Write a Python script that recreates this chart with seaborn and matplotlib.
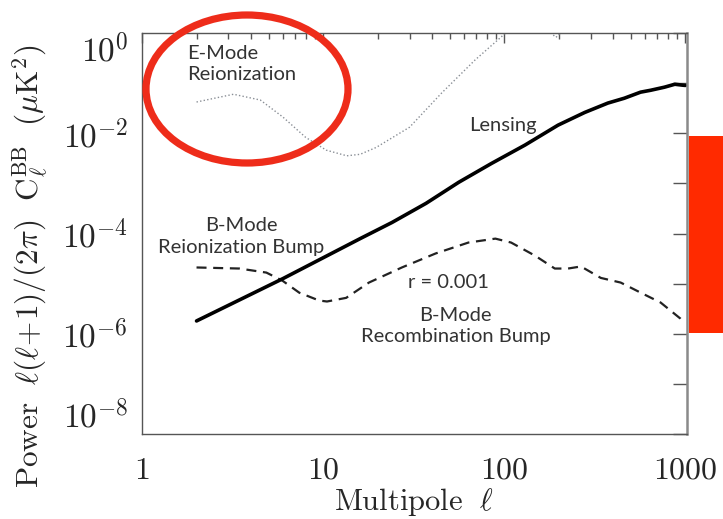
import matplotlib
matplotlib.use("Agg")
import matplotlib.pyplot as plt
from matplotlib.patches import Ellipse, Rectangle
from matplotlib.ticker import FixedLocator, NullLocator, LogLocator
import seaborn as sns
import pandas as pd

# Lensing B-mode spectrum
ell_lens = [2, 6, 16, 24, 37, 56, 85, 130, 198, 278, 373, 460, 565, 642, 766, 874, 965, 1000]
power_lens = [1.8e-6, 1.26e-5, 7.9e-5, 1.66e-4, 4.0e-4, 1.05e-3, 2.5e-3, 5.8e-3,
              1.45e-2, 2.6e-2, 4.0e-2, 5.0e-2, 6.6e-2, 7.2e-2, 8.3e-2, 9.5e-2, 9.1e-2, 9.0e-2]

# E-mode spectrum (runs off the top of the axes above l ~ 100)
ell_ee = [2, 3.2, 4.5, 6, 8, 10.4, 13.5, 16, 19.6, 30, 45, 69, 96, 120, 150, 175,
          193, 210, 250, 400, 1000]
power_ee = [0.042, 0.060, 0.046, 0.021, 0.0083, 0.0046, 0.00355, 0.0038, 0.0052,
            0.0132, 0.063, 0.29, 0.83, 1.8, 1.9, 1.1, 0.82, 1.1, 3.0, 10.0, 40.0]

# Primordial B-mode spectrum, r = 0.001
ell_bb = [2, 3.45, 4.86, 5.95, 7.38, 9.5, 10.5, 13.4, 17.9, 27.2, 41.8, 63.4, 89.3,
          109, 148, 190, 225, 265, 341, 439, 566, 729, 939, 975]
power_bb = [2.1e-5, 2.0e-5, 1.66e-5, 1.15e-5, 6.6e-6, 4.6e-6, 4.4e-6, 5.2e-6, 1.05e-5,
            2.1e-5, 4.0e-5, 6.6e-5, 7.9e-5, 6.6e-5, 3.6e-5, 2.0e-5, 2.0e-5, 2.2e-5,
            1.3e-5, 1.05e-5, 6.6e-6, 4.2e-6, 2.0e-6, 1.7e-6]

x_ticks = [1, 10, 100, 1000]
x_tick_labels = [r"$1$", r"$10$", r"$100$", r"$1000$"]
y_ticks = [1e-8, 1e-7, 1e-6, 1e-5, 1e-4, 1e-3, 1e-2, 1e-1, 1e0]
y_tick_labels = [r"$10^{-8}$", "", r"$10^{-6}$", "", r"$10^{-4}$", "", r"$10^{-2}$", "", r"$10^{0}$"]

sns.set_style("white")
plt.rcParams["mathtext.fontset"] = "cm"
plt.rcParams["font.family"] = ["Lato", "DejaVu Sans"]

fig = plt.figure(figsize=(7.23, 5.19), dpi=100)
W, H = 723, 519
ax = fig.add_axes([142 / W, 1 - 434 / H, (687 - 142) / W, (434 - 33) / H])

lens_df = pd.DataFrame({"ell": ell_lens, "power": power_lens})
ee_df = pd.DataFrame({"ell": ell_ee, "power": power_ee})
bb_df = pd.DataFrame({"ell": ell_bb, "power": power_bb})

sns.lineplot(data=ee_df, x="ell", y="power", ax=ax, color="#8a8f96",
             linewidth=1.0, linestyle=(0, (1, 1.6)), estimator=None, sort=False)
sns.lineplot(data=bb_df, x="ell", y="power", ax=ax, color="#222222",
             linewidth=1.6, linestyle=(0, (4.5, 3)), estimator=None, sort=False)
sns.lineplot(data=lens_df, x="ell", y="power", ax=ax, color="black",
             linewidth=2.6, estimator=None, sort=False)

ax.set_xscale("log")
ax.set_yscale("log")
ax.set_xlim(1, 1020)
ax.set_ylim(1e-8, 1e0)

ax.xaxis.set_major_locator(FixedLocator(x_ticks))
ax.set_xticklabels(x_tick_labels)
ax.xaxis.set_minor_locator(LogLocator(base=10, subs=range(2, 10)))
ax.xaxis.set_minor_formatter(plt.NullFormatter())
ax.yaxis.set_major_locator(FixedLocator(y_ticks))
ax.set_yticklabels(y_tick_labels)
ax.yaxis.set_minor_locator(NullLocator())

ax.tick_params(axis="both", which="both", direction="in", top=True, right=True,
               color="#555555", width=1.0)
ax.tick_params(axis="x", which="major", length=7, pad=15, labelsize=23)
ax.tick_params(axis="x", which="minor", length=4)
ax.tick_params(axis="y", which="major", length=10, pad=10, labelsize=24)

for side in ["left", "bottom", "top"]:
    ax.spines[side].set_color("#555555")
    ax.spines[side].set_linewidth(1.0)
ax.spines["right"].set_color("#8a8a8a")
ax.spines["right"].set_linewidth(1.8)

yticks = ax.yaxis.get_major_ticks()
yticks[-1].label1.set_verticalalignment("top")
yticks[0].label1.set_verticalalignment("bottom")

ax.set_xlabel(r"$\mathrm{Multipole}\ \ \ell$", fontsize=22, labelpad=1)
ax.set_ylabel(r"$\mathrm{Power}\ \ \ell(\ell\!+\!1)/(2\pi)\ \ \mathrm{C}_{\ell}^{\mathrm{BB}}\ \ (\mu\mathrm{K}^2)$",
              fontsize=22.5)
ax.yaxis.set_label_coords(-0.168, 0.418)

txt = dict(color="#333333", fontsize=14.5, va="center", linespacing=1.3)
ax.text(1.77, 0.24, "E-Mode\nReionization", ha="left", **txt)
ax.text(98, 1.4e-2, "Lensing", ha="center", **txt)
ax.text(3.54, 8.7e-5, "B-Mode\nReionization Bump", ha="center", multialignment="center", **txt)
ax.text(49, 1.05e-5, "r = 0.001", ha="center", **txt)
ax.text(54, 1.45e-6, "B-Mode\nRecombination Bump", ha="center", multialignment="center", **txt)

# highlight ring and side bar, in figure coordinates
ring = Ellipse((247 / W, 1 - 89 / H), 202 / W, 148 / H, transform=fig.transFigure,
               fill=False, edgecolor="#ee2c1a", linewidth=5.2, zorder=10)
fig.add_artist(ring)
bar = Rectangle((689 / W, 1 - 333 / H), (W - 689) / W, (333 - 136) / H,
                transform=fig.transFigure, facecolor="#ff2a00", edgecolor="none", zorder=10)
fig.add_artist(bar)

fig.savefig("out.png", dpi=100)
